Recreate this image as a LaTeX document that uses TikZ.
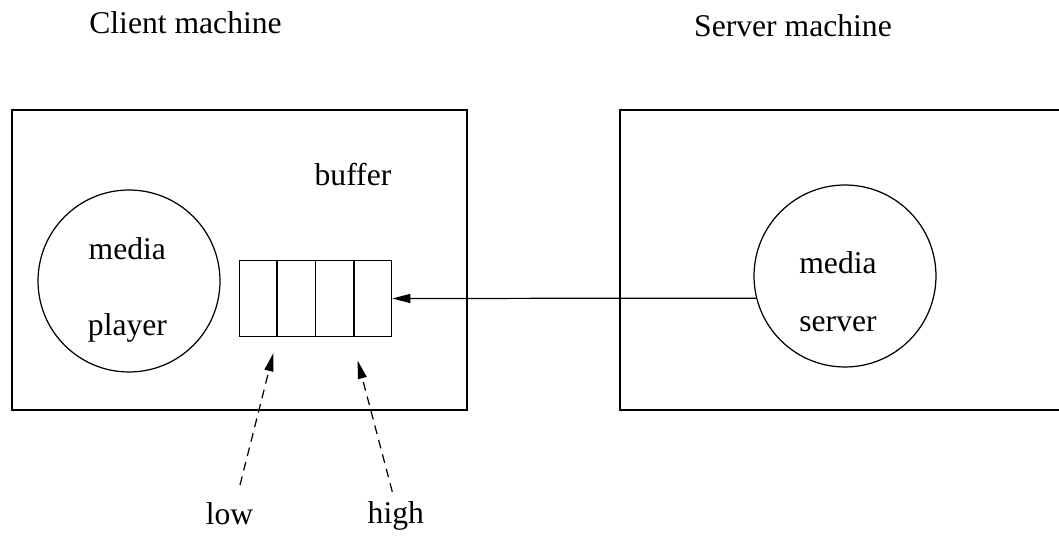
\documentclass[tikz,border=0pt]{standalone}
\usepackage{fontspec}
\setmainfont{Liberation Serif}
\usetikzlibrary{arrows.meta,calc}

\begin{document}
\begin{tikzpicture}[x=0.02cm,y=-0.02cm,line width=0.7pt,
  >={Triangle[length=0.36cm,width=0.18cm]},
  every node/.style={font=\fontsize{18}{21.6}\selectfont},
  lbl/.style={anchor=base,inner sep=0pt},
  proc/.style={draw,circle,minimum size=3.64cm,inner sep=0pt},
  mark line/.style={->,dash pattern=on 5pt off 3.5pt}]

% Picture frame
\useasboundingbox (0,0) rectangle (1059,536);
\clip (0,0) rectangle (1059,536);

% Buffer geometry
\def\bx{315.5}        % buffer centre x
\def\by{298.5}        % buffer centre y

% Machine boxes
\draw (12,110) rectangle (467,410);
\draw (620,110) rectangle (1075,410);

% Machine titles
\node[lbl] (client) at (185.5,34) {Client machine};
\node[lbl] (servertitle) at (793,36.7) {Server machine};

% Player and server processes
\node[proc] (player) at (129,281) {};
\node[lbl] (playerA) at (127.3,260) {media};
\node[lbl] (playerB) at (127.5,335.7) {player};

\node[proc] (server) at (845,276) {};
\node[lbl] (serverA) at (838,273.3) {media};
\node[lbl] (serverB) at (838,331.7) {server};

% Buffer with its slots
\node[draw,minimum width=3.05cm,minimum height=1.51cm,inner sep=0pt]
    (buf) at (\bx,\by) {};
\foreach \i in {1,2,3}
    \draw ($(buf.north west)!\i/4!(buf.north east)$)
       -- ($(buf.south west)!\i/4!(buf.south east)$);
\node[lbl] (buflabel) at (353,186) {buffer};

% Stream from server to buffer
\draw[->] (server.194) -- (buf.east);

% Low and high marks
\node[lbl] (low) at (229.5,524.3) {low};
\node[lbl] (high) at (395.8,524) {high};
\coordinate (lowtail) at (240,485);
\coordinate (lowtip) at (273.3,353.3);
\coordinate (hightail) at (392.3,491.7);
\coordinate (hightip) at (357.7,360.7);
\draw[mark line] (lowtail) -- (lowtip);
\draw[mark line] (hightail) -- (hightip);

\end{tikzpicture}
\end{document}
